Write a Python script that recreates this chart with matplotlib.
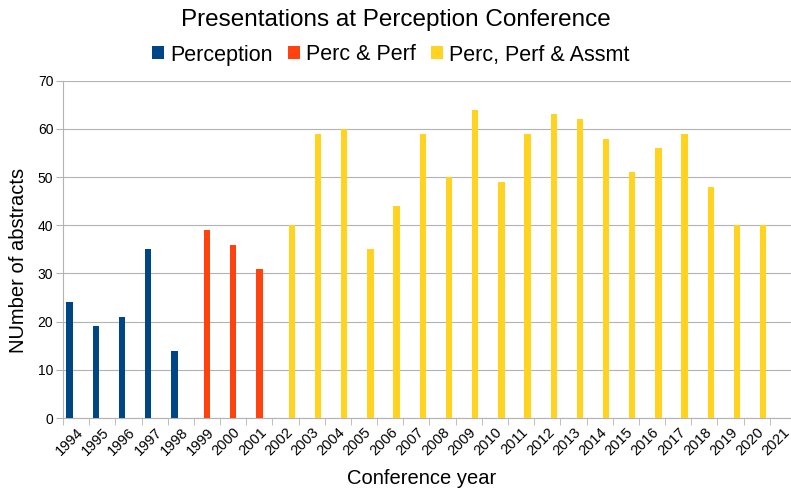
import matplotlib
matplotlib.use("Agg")
import matplotlib.pyplot as plt
import numpy as np

plt.rcParams["font.family"] = ["Liberation Sans", "DejaVu Sans"]

years = list(range(1994, 2022))
perception = {1994: 24, 1995: 19, 1996: 21, 1997: 35, 1998: 14}
perc_perf = {1999: 39, 2000: 36, 2001: 31}
perc_perf_assmt = {2002: 40, 2003: 59, 2004: 60, 2005: 35, 2006: 44, 2007: 59,
                   2008: 50, 2009: 64, 2010: 49, 2011: 59, 2012: 63, 2013: 62,
                   2014: 58, 2015: 51, 2016: 56, 2017: 59, 2018: 48, 2019: 40,
                   2020: 40}

series = [
    ("Perception", perception, "#004586"),
    ("Perc & Perf", perc_perf, "#ff420e"),
    ("Perc, Perf & Assmt", perc_perf_assmt, "#ffd320"),
]

W, H = 791, 488
fig = plt.figure(figsize=(W / 100, H / 100), dpi=100)
# plot area runs slightly past the right edge, as in the cropped original
left, right, bottom, top = 63, 796, 418, 80.7
ax = fig.add_axes([left / W, (H - bottom) / H, (right - left) / W, (bottom - top) / H])

x = np.arange(len(years))
bw = 0.245
handles = []
for i, (name, data, color) in enumerate(series):
    xs = [years.index(y) + (i - 1) * bw for y in data]
    h = ax.bar(xs, list(data.values()), width=bw, color=color, label=name, zorder=3)
    handles.append(h)

ax.set_xlim(-0.5, len(years) - 0.5)
ax.set_ylim(0, 70)
ax.set_yticks(range(0, 71, 10))
ax.set_xticks(x)
ax.set_xticklabels([str(y) for y in years], rotation=45, ha="right",
                   rotation_mode="anchor", fontsize=10.5)
ax.set_xticks(np.arange(-0.5, len(years) + 0.5, 1), minor=True)
ax.tick_params(axis="x", which="major", length=0, pad=5)
ax.tick_params(axis="x", which="minor", length=5, color="#b3b3b3")
ax.tick_params(axis="y", length=5, color="#b3b3b3", labelsize=10, pad=2)
ax.grid(axis="y", color="#b3b3b3", linewidth=0.8, zorder=0)
for s in ["top", "right"]:
    ax.spines[s].set_visible(False)
for s in ["left", "bottom"]:
    ax.spines[s].set_color("#b3b3b3")

fig.text(422 / W, 1 - 479 / H, "Conference year", fontsize=14.5,
         ha="center", va="center")
fig.text(19 / W, 1 - 260 / H, "NUmber of abstracts", fontsize=14.5,
         ha="center", va="center", rotation=90)

fig.text(396 / W, 1 - 20 / H, "Presentations at Perception Conference",
         fontsize=17.5, ha="center", va="center")
fig.legend(handles=handles, loc="center", bbox_to_anchor=(391 / W, 1 - 55 / H),
           ncol=3, frameon=False, fontsize=15.5, handlelength=0.56,
           handleheight=0.56, handletextpad=0.28, columnspacing=0.7,
           borderpad=0)

fig.savefig("out.png", dpi=100)
